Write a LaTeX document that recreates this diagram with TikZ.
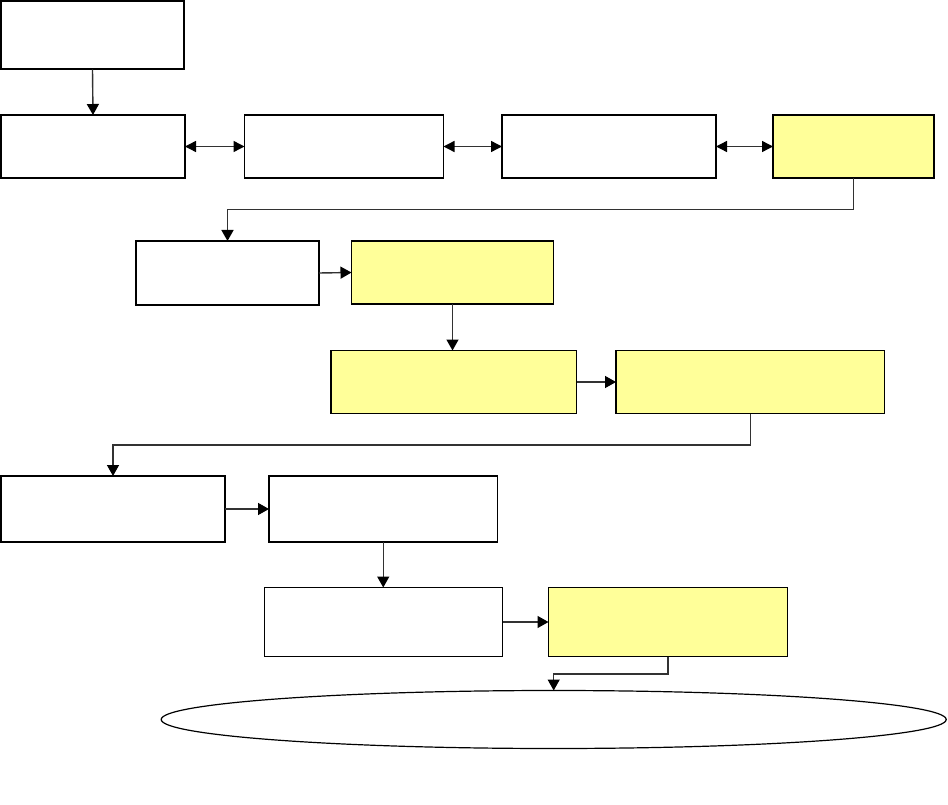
\documentclass[tikz,border=0pt]{standalone}
\usetikzlibrary{arrows.meta,shapes.geometric,calc}
\definecolor{paleyellow}{RGB}{255,255,153}
\definecolor{linegray}{RGB}{50,50,50}
\tikzset{
  boxnode/.style={draw=black, rectangle, inner sep=0pt, outer sep=0pt, anchor=north west, line width=1.2pt},
  thickbox/.style={boxnode, line width=2pt},
  hl/.style={fill=paleyellow},
  conn/.style={draw=linegray, line width=1.4pt, -{Triangle[width=12pt,length=11pt,color=black]}},
  dconn/.style={draw=linegray, line width=1.4pt, {Triangle[width=11pt,length=11pt,color=black]}-{Triangle[width=11pt,length=11pt,color=black]}}
}
\begin{document}
\begin{tikzpicture}[x=1pt,y=-1pt]
\useasboundingbox (0,0) rectangle (948,805);
% row 1
\node[thickbox, minimum width=183pt, minimum height=68pt] (A) at (1,1.5) {};
\node[thickbox, minimum width=184pt, minimum height=63pt] (B) at (1,115) {};
\node[boxnode, line width=1.5pt, minimum width=199pt, minimum height=63pt] (C) at (244.5,115) {};
\node[boxnode, line width=1.5pt, minimum width=214pt, minimum height=63pt] (D) at (502,115) {};
\node[thickbox, hl, minimum width=161pt, minimum height=63pt] (E) at (773,115) {};
% row 2
\node[boxnode, minimum width=183pt, minimum height=64pt] (F) at (136,241) {};
\node[boxnode, hl, minimum width=202pt, minimum height=63pt] (G) at (351.5,241) {};
% row 3
\node[boxnode, line width=1.5pt, hl, minimum width=245.5pt, minimum height=63pt] (H) at (331,350.5) {};
\node[boxnode, line width=1.5pt, hl, minimum width=268.5pt, minimum height=63pt] (I) at (616,350.5) {};
% row 4
\node[thickbox, line width=1.7pt, minimum width=224pt, minimum height=66pt] (J) at (1,476) {};
\node[thickbox, line width=1.7pt, minimum width=228.5pt, minimum height=66pt] (K) at (269,476) {};
% row 5
\node[boxnode, minimum width=238pt, minimum height=69pt] (L) at (264.5,587.5) {};
\node[boxnode, hl, minimum width=239pt, minimum height=69pt] (M) at (548.5,587.5) {};
% ellipse
\node[draw=black, line width=1.2pt, ellipse, inner sep=0pt, outer sep=0pt, minimum width=785pt, minimum height=58pt] (N) at (553.7,719.5) {};
% connectors
\draw[conn] (A.south) -- (B.north);
\draw[dconn] (B.east) -- (C.west);
\draw[dconn] (C.east) -- (D.west);
\draw[dconn] (D.east) -- (E.west);
\draw[conn] (E.south) -- ++(0,31.5) -| (F.north);
\draw[conn] (F.east) -- (G.west);
\draw[conn] (G.south) -- (G.south |- H.north);
\draw[conn] (H.east) -- (I.west);
\draw[conn] (I.south) -- ++(0,31.5) -| (J.north);
\draw[conn] (J.east) -- (K.west);
\draw[conn] (K.south) -- (K.south |- L.north);
\draw[conn] (L.east) -- (M.west);
\draw[conn] (M.south) -- ++(0,17.5) -| (N.north);
\end{tikzpicture}
\end{document}
